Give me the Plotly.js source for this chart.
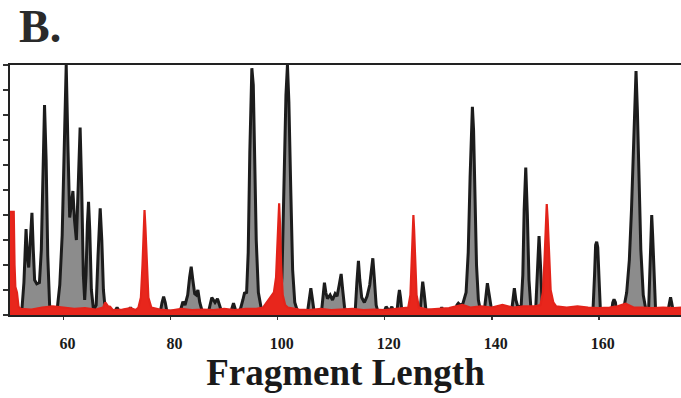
<!DOCTYPE html>
<html>
<head>
<meta charset="utf-8">
<script src="https://cdn.plot.ly/plotly-3.0.1.min.js"></script>
<style>html,body{margin:0;padding:0;background:#fff}#chart{width:681px;height:398px}</style>
</head>
<body>
<div id="chart"></div>
<script>
// Black (grey-filled) trace: fragment length vs signal
const blackX = [50.0, 52.2, 52.6, 52.8, 53.0, 53.25, 53.5, 53.8, 54.1, 54.35, 54.6, 55.0, 55.5, 55.85, 56.15, 56.45, 56.75, 57.05, 57.4, 57.8,
  58.8, 59.3, 59.75, 60.1, 60.5, 60.85, 61.15, 61.45, 61.75, 62.05, 62.4, 62.75, 63.1, 63.4, 63.7, 63.95, 64.2, 64.45, 64.67, 64.9, 65.2, 65.6,
  66.1, 66.45, 66.85, 67.15, 67.45, 67.8,
  69.6, 70.0, 70.4, 72.1, 72.5, 72.9,
  78.1, 78.4, 78.7, 79.0, 79.3,
  81.8, 82.3, 82.7, 83.2, 83.55, 83.85, 84.15, 84.5, 84.8, 85.1, 85.45, 85.9,
  87.1, 87.5, 87.7, 88.0, 88.3, 88.76, 89.1, 89.5,
  91.3, 91.75, 92.2,
  93.0, 93.5, 93.8, 94.2, 94.5, 94.8, 95.0, 95.18, 95.45, 95.7, 96.0, 96.4, 96.9, 97.4,
  100.4, 100.8, 101.2, 101.55, 101.83, 102.1, 102.45, 102.8, 103.2, 103.7,
  105.6, 105.95, 106.2, 106.45, 106.8,
  108.2, 108.5, 108.74, 109.0, 109.3, 109.8, 110.25, 110.74, 111.1, 111.5, 111.86, 112.15, 112.5, 112.8,
  114.5, 114.8, 115.09, 115.35, 115.7, 116.2, 116.7, 117.2, 117.5, 117.78, 118.05, 118.4, 118.7,
  119.9, 120.26, 120.7, 121.0, 121.33, 121.7,
  122.3, 122.55, 122.75, 122.95, 123.2,
  126.6, 126.85, 127.1, 127.35, 127.7,
  130.3, 130.66, 131.0,
  133.2, 133.5, 133.76, 134.1, 134.6, 135.2, 135.6, 135.95, 136.2, 136.38, 136.6, 136.85, 137.15, 137.5, 137.9,
  138.6, 138.9, 139.18, 139.45, 139.7, 140.0,
  143.7, 143.95, 144.22, 144.5, 144.9, 145.5, 145.8, 146.05, 146.35, 146.65, 146.95, 147.3, 147.8,
  148.2, 148.5, 148.83, 149.1, 149.4, 149.7,
  158.9, 159.2, 159.4, 159.6, 159.8, 160.05, 160.3,
  162.4, 162.6, 162.84, 163.1, 163.3,
  164.6, 165.2, 165.7, 166.1, 166.45, 166.7, 166.95, 167.2, 167.5, 167.85, 168.3, 168.8,
  169.3, 169.55, 169.75, 169.88, 170.05, 170.3, 170.6,
  172.9, 173.2, 173.4, 173.6, 173.9, 175.4];
const blackY = [0.1, 0.15, 1.3, 2.6, 3.44, 2.3, 1.9, 3.0, 4.09, 2.6, 1.4, 1.25, 1.3, 2.6, 6.2, 8.4, 6.2, 2.4, 0.4, 0.15,
  0.2, 1.2, 3.2, 6.8, 10.0, 6.5, 3.9, 4.4, 4.96, 3.8, 3.0, 5.2, 7.5, 5.0, 1.6, 0.6, 1.6, 3.6, 4.53, 3.4, 1.0, 0.2,
  0.4, 2.4, 4.27, 3.0, 1.0, 0.2,
  0.15, 0.3, 0.15, 0.15, 0.3, 0.15,
  0.15, 0.5, 0.73, 0.5, 0.15,
  0.15, 0.53, 0.4, 0.8, 1.5, 1.93, 1.4, 0.85, 0.8, 1.0, 0.5, 0.15,
  0.15, 0.6, 0.7, 0.6, 0.5, 0.65, 0.4, 0.15,
  0.15, 0.47, 0.15,
  0.2, 0.6, 0.87, 0.9, 2.5, 6.5, 9.0, 9.87, 9.2, 6.8, 3.0, 0.9, 0.3, 0.15,
  0.3, 1.5, 5.0, 8.8, 10.0, 8.5, 5.0, 1.8, 0.5, 0.15,
  0.15, 0.7, 1.07, 0.7, 0.15,
  0.15, 0.9, 1.29, 0.9, 0.65, 0.8, 0.6, 0.85, 0.75, 1.2, 1.64, 1.0, 0.3, 0.15,
  0.2, 1.3, 2.17, 1.4, 0.7, 0.5, 0.75, 1.2, 1.8, 2.27, 1.5, 0.4, 0.15,
  0.15, 0.33, 0.2, 0.2, 0.33, 0.15,
  0.15, 0.7, 1.0, 0.7, 0.15,
  0.15, 0.9, 1.33, 0.9, 0.2,
  0.15, 0.3, 0.15,
  0.15, 0.4, 0.47, 0.4, 0.45, 0.9, 2.5, 5.5, 7.6, 8.33, 7.4, 4.8, 2.0, 0.6, 0.15,
  0.15, 0.8, 1.27, 0.9, 0.6, 0.15,
  0.15, 0.7, 1.07, 0.6, 0.3, 0.4, 1.6, 4.2, 5.9, 4.0, 1.4, 0.3, 0.2,
  0.2, 1.5, 3.16, 2.0, 0.5, 0.15,
  0.15, 1.6, 2.8, 2.93, 2.7, 1.4, 0.15,
  0.15, 0.5, 0.63, 0.5, 0.15,
  0.2, 0.9, 2.2, 4.2, 6.7, 8.4, 9.76, 8.2, 5.6, 2.6, 0.8, 0.2,
  0.2, 1.6, 3.3, 4.0, 3.2, 1.4, 0.2,
  0.15, 0.5, 0.71, 0.5, 0.15, 0.15];

// Red trace
const redX = [50.0, 50.7, 50.85, 51.0, 51.3, 51.6, 52.0, 54.0, 56.0, 58.0, 60.0, 62.0, 64.0, 66.0, 67.4, 67.8, 68.3, 68.7, 69.2,
  71.0, 72.5, 73.5, 74.0, 74.45, 74.75, 74.97, 75.13, 75.3, 75.52, 75.85, 76.4, 78.0, 80.0, 82.0, 84.0, 86.0, 88.0, 90.0, 92.0, 94.0, 96.0,
  97.3, 98.3, 99.3, 99.7, 99.95, 100.15, 100.28, 100.45, 100.65, 100.95, 101.4, 101.9, 104.0, 106.0, 108.0, 110.0, 112.0, 114.0, 116.0, 118.0, 120.0, 122.0,
  124.4, 124.8, 125.05, 125.22, 125.36, 125.5, 125.7, 125.95, 126.4, 128.0, 130.0, 132.0, 134.5, 136.0, 138.0, 140.0, 142.0, 144.0, 146.0, 148.0,
  149.1, 149.55, 149.85, 150.08, 150.27, 150.45, 150.7, 151.0, 151.5, 152.0, 154.0, 156.0, 158.0, 160.0, 162.0, 163.5, 165.0, 166.5, 168.0, 170.0, 172.0, 174.0, 175.4];
const redY = [4.13, 4.13, 2.0, 1.13, 0.9, 0.33, 0.25, 0.22, 0.3, 0.35, 0.3, 0.25, 0.28, 0.22, 0.3, 0.5, 0.35, 0.33, 0.2,
  0.22, 0.27, 0.2, 0.3, 0.7, 2.0, 3.5, 4.2, 3.5, 2.0, 0.7, 0.3, 0.22, 0.18, 0.25, 0.2, 0.22, 0.2, 0.25, 0.2, 0.25, 0.25,
  0.3, 0.6, 0.9, 1.5, 2.8, 4.0, 4.47, 3.6, 2.0, 0.8, 0.4, 0.3, 0.22, 0.2, 0.25, 0.2, 0.22, 0.25, 0.2, 0.22, 0.2, 0.25,
  0.3, 0.8, 2.0, 3.4, 4.0, 3.4, 2.0, 0.8, 0.3, 0.22, 0.25, 0.28, 0.4, 0.3, 0.35, 0.3, 0.4, 0.3, 0.35, 0.35,
  0.4, 0.9, 2.2, 3.8, 4.44, 3.8, 2.3, 1.0, 0.5, 0.35, 0.3, 0.35, 0.3, 0.28, 0.3, 0.35, 0.45, 0.3, 0.3, 0.28, 0.3, 0.28, 0.3];

const xTicks = [60, 80, 100, 120, 140, 160];

const traces = [
  {x: blackX, y: blackY, type: 'scatter', mode: 'lines', fill: 'tozeroy',
   fillcolor: '#8c8c8c', line: {color: '#1c1c1c', width: 3}, hoverinfo: 'skip'},
  {x: redX, y: redY, type: 'scatter', mode: 'lines', fill: 'tozeroy',
   fillcolor: '#e8261c', line: {color: '#e3231a', width: 2.2}, hoverinfo: 'skip'}
];

const layout = {
  width: 681, height: 398,
  margin: {l: 10, r: 0, t: 65, b: 83},
  paper_bgcolor: '#ffffff', plot_bgcolor: '#ffffff',
  showlegend: false,
  title: {text: 'B.', x: 0.028, xanchor: 'left', xref: 'container', y: 0.935, yanchor: 'middle', yref: 'container',
    font: {family: 'Liberation Serif', size: 46, weight: 'bold', color: '#2a2a2a'}},
  xaxis: {range: [50, 175.35], tickvals: xTicks, ticktext: xTicks.map(String), ticks: 'outside', ticklen: 3, tickwidth: 1.5,
    tickcolor: '#333', showline: true, linecolor: '#222', linewidth: 2, mirror: true, showgrid: false, zeroline: false,
    ticklabelstandoff: 10, ticklabelshift: 4,
    tickfont: {family: 'Liberation Serif', size: 16, weight: 'bold', color: '#1a1a1a'},
    title: {text: 'Fragment Length', standoff: 8, font: {family: 'Liberation Serif', size: 37, weight: 'bold', color: '#1a1a1a'}}},
  yaxis: {range: [0, 10], dtick: 1, tick0: 0, ticks: 'outside', ticklen: 5, tickwidth: 1.5, tickcolor: '#333',
    showticklabels: false, showline: true, linecolor: '#222', linewidth: 2, showgrid: false, zeroline: false}
};

Plotly.newPlot('chart', traces, layout, {staticPlot: true, displayModeBar: false});
</script>
</body>
</html>
